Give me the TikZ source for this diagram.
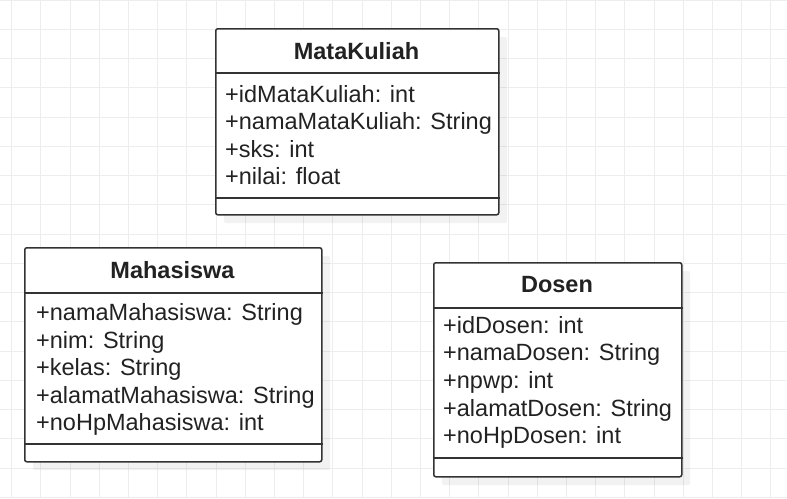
\documentclass[tikz,border=0pt]{standalone}
\usepackage{fontspec}
\setmainfont{Liberation Sans}
\usetikzlibrary{calc}
\definecolor{gridc}{HTML}{EDEDED}
\definecolor{strokec}{HTML}{333333}
\definecolor{textc}{HTML}{222222}
\tikzset{
  classbox/.style={draw=strokec, fill=white, line width=1.5pt, rounded corners=2pt, inner sep=0pt, anchor=north west},
  shadowbox/.style={fill=black, opacity=0.05, rounded corners=2pt},
  sepline/.style={draw=strokec, line width=1.5pt},
  hdr/.style={anchor=base, inner sep=0pt, text=textc, font=\fontsize{23.5}{27}\selectfont\bfseries},
  attr/.style={anchor=base west, inner sep=0pt, text=textc, font=\fontsize{23.5}{27}\selectfont},
  gridline/.style={draw=gridc, line width=1pt}
}
\begin{document}
\begin{tikzpicture}[x=1pt,y=-1pt]
\useasboundingbox (0,0) rectangle (787,498);
\fill[white] (0,0) rectangle (787,498);
% grid
\foreach \i in {0,...,26} \draw[gridline] (11.7+29.2*\i,0) -- (11.7+29.2*\i,498);
\foreach \j in {0,...,17} \draw[gridline] (0,29.25*\j) -- (787,29.25*\j);

% ---------- MataKuliah ----------
\fill[shadowbox] (224,37) rectangle (507,223);
\node[classbox, minimum width=283pt, minimum height=186pt] (mk) at (215,28) {};
\draw[sepline] (mk.west |- 0,73) -- (mk.east |- 0,73);
\draw[sepline] (mk.west |- 0,198) -- (mk.east |- 0,198);
\node[hdr] (mkh) at (356.5,59) {MataKuliah};
\node[attr] (mk1) at (225,102) {+idMataKuliah: int};
\node[attr] (mk2) at (225,129.5) {+namaMataKuliah: String};
\node[attr] (mk3) at (225,157) {+sks: int};
\node[attr] (mk4) at (225,184) {+nilai: float};

% ---------- Mahasiswa ----------
\fill[shadowbox] (33,256) rectangle (330,470);
\node[classbox, minimum width=297pt, minimum height=214pt] (mh) at (24,247) {};
\draw[sepline] (mh.west |- 0,293) -- (mh.east |- 0,293);
\draw[sepline] (mh.west |- 0,444) -- (mh.east |- 0,444);
\node[hdr] (mhh) at (172.5,278) {Mahasiswa};
\node[attr] (mh1) at (36,320) {+namaMahasiswa: String};
\node[attr] (mh2) at (36,348) {+nim: String};
\node[attr] (mh3) at (36,375) {+kelas: String};
\node[attr] (mh4) at (36,403) {+alamatMahasiswa: String};
\node[attr] (mh5) at (36,430) {+noHpMahasiswa: int};

% ---------- Dosen ----------
\fill[shadowbox] (442,271) rectangle (690,485);
\node[classbox, minimum width=248pt, minimum height=214pt] (ds) at (433,262) {};
\draw[sepline] (ds.west |- 0,308) -- (ds.east |- 0,308);
\draw[sepline] (ds.west |- 0,458) -- (ds.east |- 0,458);
\node[hdr] (dsh) at (557,292) {Dosen};
\node[attr] (ds1) at (443,333) {+idDosen: int};
\node[attr] (ds2) at (443,360) {+namaDosen: String};
\node[attr] (ds3) at (443,388) {+npwp: int};
\node[attr] (ds4) at (443,416) {+alamatDosen: String};
\node[attr] (ds5) at (443,443) {+noHpDosen: int};
\end{tikzpicture}
\end{document}
